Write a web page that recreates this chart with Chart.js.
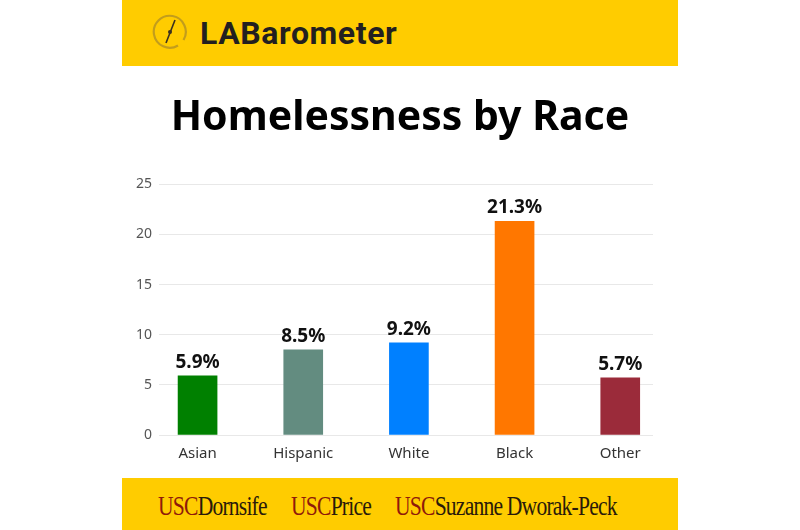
<!DOCTYPE html>
<html>
<head>
<meta charset="utf-8">
<script src="https://cdn.jsdelivr.net/npm/chart.js@4.4.0/dist/chart.umd.min.js"></script>
<style>
  html, body { margin: 0; padding: 0; background: #fff; }
  body { width: 800px; height: 530px; position: relative; overflow: hidden; }
  #header { position: absolute; left: 122px; top: 0; width: 556px; height: 66px; background: #ffcc00; }
  #logoText { position: absolute; left: 78px; top: 13px; font-family: "Roboto", sans-serif; font-weight: 700;
    font-size: 32px; color: #231f20; letter-spacing: 0.6px; line-height: 40px; }
  #logoIcon { position: absolute; left: 30px; top: 14px; }
  #footer { position: absolute; left: 122px; top: 478px; width: 556px; height: 52px; background: #ffcc00; }
  .usc { position: absolute; top: 12px; font-family: "Liberation Serif", serif; font-size: 27px;
    letter-spacing: -1px; color: #2a1a0a; line-height: 32px; white-space: nowrap;
    transform: scaleX(0.8); transform-origin: left center; }
  .usc b { font-weight: normal; color: #8f1a0a; }
  #wrap { position: absolute; left: 122px; top: 66px; width: 556px; height: 412px; }
</style>
</head>
<body>
<div id="header">
  <svg id="logoIcon" width="36" height="36" viewBox="0 0 36 36">
    <path d="M 26 31.5 A 16 16 0 1 1 31.5 26" fill="none" stroke="#c29d1c" stroke-width="2.2"/>
    <line x1="14" y1="29" x2="23" y2="6" stroke="#3a3020" stroke-width="1.6"/>
    <circle cx="18" cy="18" r="2" fill="#3a3020"/>
  </svg>
  <div id="logoText">LABarometer</div>
</div>
<div id="wrap"><canvas id="myChart"></canvas></div>
<div id="footer">
  <span class="usc" style="left:36px"><b>USC</b>Dornsife</span>
  <span class="usc" style="left:169px"><b>USC</b>Price</span>
  <span class="usc" style="left:273px"><b>USC</b>Suzanne Dworak-Peck</span>
</div>
<script>
var categories = ["Asian", "Hispanic", "White", "Black", "Other"];
var values = [5.9, 8.5, 9.2, 21.3, 5.7];
var barColors = ["#008000", "#638c80", "#0080ff", "#ff7700", "#9b2b3a"];
var yTicks = [0, 5, 10, 15, 20, 25];

var points = [];
for (var i in values) {
    points.push({ x: Number(i), y: values[i] });
}

// value labels above the bars
var barLabels = {
    id: "barLabels",
    afterDatasetsDraw: function (chart) {
        var ctx = chart.ctx;
        var meta = chart.getDatasetMeta(0);
        ctx.save();
        ctx.font = "bold 19px 'Noto Sans', sans-serif";
        ctx.fillStyle = "#111";
        ctx.textAlign = "center";
        ctx.textBaseline = "bottom";
        meta.data.forEach(function (bar, i) {
            ctx.fillText(values[i].toFixed(1) + "%", bar.x, bar.y - 4);
        });
        ctx.restore();
    },
};

var myChart = document.getElementById("myChart").getContext("2d");
var chart = new Chart(myChart, {
    type: "bar",
    data: {
        datasets: [
            {
                label: "Homelessness",
                data: points,
                backgroundColor: barColors,
                barThickness: 39,
            },
        ],
    },
    options: {
        responsive: true,
        maintainAspectRatio: false,
        animation: false,
        layout: { padding: 0 },
        plugins: {
            legend: { display: false },
            tooltip: { enabled: false },
            title: {
                display: true,
                text: "Homelessness by Race",
                color: "#000",
                font: { family: "'Noto Sans', sans-serif", size: 41, weight: "bold" },
                padding: { top: 28, bottom: 41 },
            },
        },
        scales: {
            x: {
                type: "linear",
                offset: false,
                min: -0.365,
                max: 4.31,
                grid: { display: false },
                border: { display: false },
                ticks: {
                    stepSize: 1,
                    includeBounds: false,
                    autoSkip: false,
                    maxRotation: 0,
                    padding: 2,
                    color: "#333",
                    font: { family: "'Noto Sans', sans-serif", size: 15 },
                    callback: function (v) {
                        return Number.isInteger(v) ? categories[v] : "";
                    },
                },
                afterFit: function (scale) { scale.height = 43; },
            },
            y: {
                min: 0,
                max: 25,
                afterBuildTicks: function (scale) {
                    scale.ticks = yTicks.map(function (v) { return { value: v }; });
                },
                grid: { color: "#e8e8e8", drawTicks: false, lineWidth: 1 },
                border: { display: false },
                ticks: {
                    padding: 7,
                    color: "#555",
                    font: { family: "'Noto Sans', sans-serif", size: 14 },
                },
                afterFit: function (scale) { scale.width = 37; },
            },
            // empty right axis, only keeps the right margin so the title stays centred
            yRight: {
                position: "right",
                min: 0,
                max: 1,
                grid: { display: false },
                border: { display: false },
                ticks: { display: false },
                afterFit: function (scale) { scale.width = 25; },
            },
        },
    },
    plugins: [barLabels],
});
</script>
</body>
</html>
